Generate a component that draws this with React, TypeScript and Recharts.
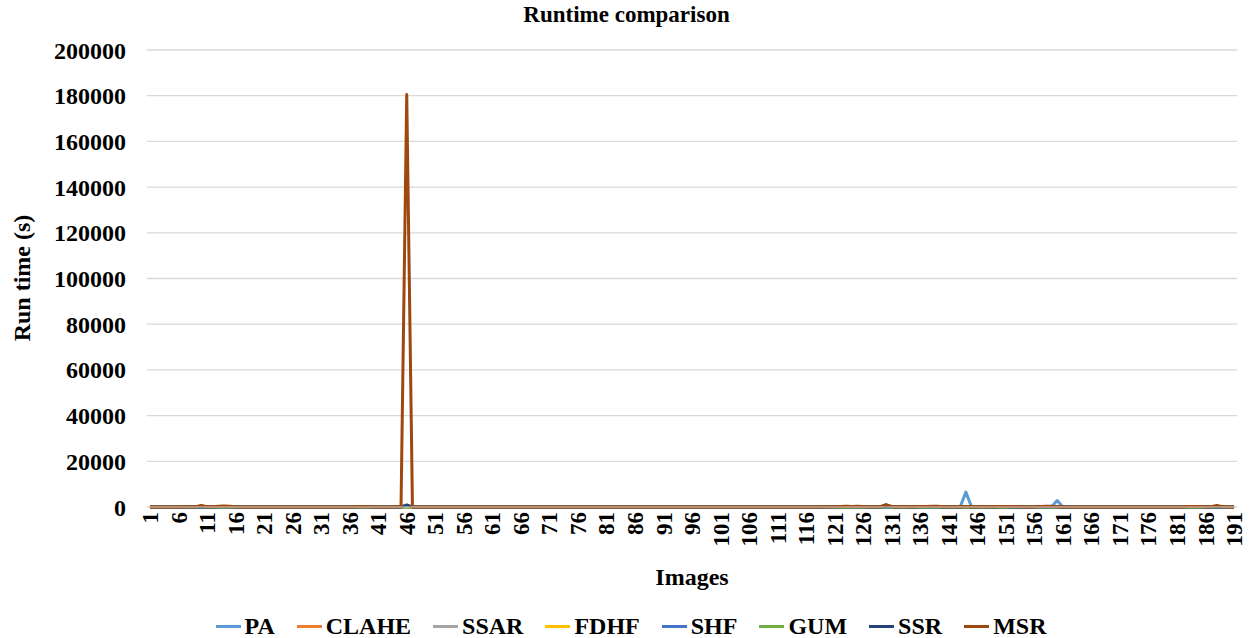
import React from 'react';
import { LineChart, Line, XAxis, YAxis, CartesianGrid } from 'recharts';

const FONT = "'Liberation Serif', 'Times New Roman', serif";

const images = [
  1, 2, 3, 4, 5, 6, 7, 8, 9, 10, 11, 12, 13, 14, 15, 16, 17, 18, 19, 20,
  21, 22, 23, 24, 25, 26, 27, 28, 29, 30, 31, 32, 33, 34, 35, 36, 37, 38, 39, 40,
  41, 42, 43, 44, 45, 46, 47, 48, 49, 50, 51, 52, 53, 54, 55, 56, 57, 58, 59, 60,
  61, 62, 63, 64, 65, 66, 67, 68, 69, 70, 71, 72, 73, 74, 75, 76, 77, 78, 79, 80,
  81, 82, 83, 84, 85, 86, 87, 88, 89, 90, 91, 92, 93, 94, 95, 96, 97, 98, 99, 100,
  101, 102, 103, 104, 105, 106, 107, 108, 109, 110, 111, 112, 113, 114, 115, 116, 117, 118, 119, 120,
  121, 122, 123, 124, 125, 126, 127, 128, 129, 130, 131, 132, 133, 134, 135, 136, 137, 138, 139, 140,
  141, 142, 143, 144, 145, 146, 147, 148, 149, 150, 151, 152, 153, 154, 155, 156, 157, 158, 159, 160,
  161, 162, 163, 164, 165, 166, 167, 168, 169, 170, 171, 172, 173, 174, 175, 176, 177, 178, 179, 180,
  181, 182, 183, 184, 185, 186, 187, 188, 189, 190, 191,
];

const PA = [
  15,12,18,14,10,16,13,15,20,40,
  25,15,30,35,28,14,12,15,13,11,
  15,12,11,16,15,12,11,15,16,12,
  11,15,12,16,15,18,20,26,32,16,
  15,14,12,16,22,120,16,15,12,11,
  15,12,11,16,15,12,11,15,16,12,
  11,15,12,16,15,12,11,15,16,12,
  15,12,11,16,15,12,11,15,16,12,
  11,15,12,16,15,12,11,15,16,12,
  15,12,11,16,15,12,11,15,16,12,
  11,15,12,16,15,12,11,15,16,12,
  15,12,11,16,15,12,11,15,18,22,
  26,32,36,30,33,28,18,16,22,900,
  28,16,30,18,16,26,30,32,31,20,
  16,15,22,6500,18,15,30,18,16,26,
  28,24,16,15,12,16,30,32,31,2800,
  16,12,11,15,12,11,15,12,16,15,
  11,15,12,16,15,12,11,15,16,12,
  15,18,26,30,28,16,18,60,22,16,
  15,
];

const CLAHE = [
  8,7,9,8,6,8,7,9,10,20,
  12,8,15,16,14,7,6,8,7,6,
  8,7,6,9,8,7,6,8,9,7,
  6,8,7,9,8,10,11,15,18,9,
  8,7,6,9,12,60,9,8,7,6,
  8,7,6,9,8,7,6,8,9,7,
  6,8,7,9,8,7,6,8,9,7,
  8,7,6,9,8,7,6,8,9,7,
  6,8,7,9,8,7,6,8,9,7,
  8,7,6,9,8,7,6,8,9,7,
  6,8,7,9,8,7,6,8,9,7,
  8,7,6,9,8,7,6,8,10,12,
  14,18,20,16,18,15,10,9,12,40,
  15,9,16,10,9,14,16,18,17,11,
  9,8,12,60,10,9,16,10,9,14,
  15,13,9,8,7,9,16,18,17,30,
  9,7,6,8,7,6,8,7,9,8,
  6,8,7,9,8,7,6,8,9,7,
  8,9,14,16,15,9,10,30,12,9,
  8,
];

const SSAR = [
  4,3,5,4,3,4,3,5,6,12,
  7,4,9,10,8,4,3,4,3,3,
  4,3,3,5,4,3,3,4,5,3,
  3,4,3,5,4,5,6,8,10,5,
  4,4,3,5,7,35,5,4,3,3,
  4,3,3,5,4,3,3,4,5,3,
  3,4,3,5,4,3,3,4,5,3,
  4,3,3,5,4,3,3,4,5,3,
  3,4,3,5,4,3,3,4,5,3,
  4,3,3,5,4,3,3,4,5,3,
  3,4,3,5,4,3,3,4,5,3,
  4,3,3,5,4,3,3,4,6,7,
  8,10,12,9,10,8,6,5,7,25,
  8,5,9,6,5,8,9,10,9,6,
  5,4,7,35,6,5,9,6,5,8,
  8,7,5,4,4,5,9,10,9,18,
  5,4,3,4,4,3,4,4,5,4,
  3,4,3,5,4,3,3,4,5,3,
  4,5,8,9,8,5,6,18,7,5,
  4,
];

const FDHF = [
  20,18,22,19,16,21,18,22,28,60,
  32,20,40,45,38,19,17,20,18,16,
  20,18,16,22,20,18,16,20,22,18,
  16,20,18,22,20,24,26,35,45,22,
  20,19,17,22,30,150,22,20,18,16,
  20,18,16,22,20,18,16,20,22,18,
  16,20,18,22,20,18,16,20,22,18,
  20,18,16,22,20,18,16,20,22,18,
  16,20,18,22,20,18,16,20,22,18,
  20,18,16,22,20,18,16,20,22,18,
  16,20,18,22,20,18,16,20,22,18,
  20,18,16,22,20,18,16,20,26,30,
  35,45,50,42,46,38,26,22,30,110,
  38,22,40,25,22,36,40,45,42,28,
  22,20,30,150,24,21,40,25,22,36,
  38,33,22,20,18,22,40,45,42,70,
  22,18,16,20,18,16,20,18,22,20,
  16,20,18,22,20,18,16,20,22,18,
  20,22,36,40,38,22,25,80,30,22,
  20,
];

const SHF = [
  25,22,27,24,20,26,23,27,33,70,
  38,25,48,52,45,24,21,25,22,20,
  25,22,20,27,25,22,20,25,27,22,
  20,25,22,27,25,29,31,42,52,27,
  25,24,21,27,36,300,27,25,22,20,
  25,22,20,27,25,22,20,25,27,22,
  20,25,22,27,25,22,20,25,27,22,
  25,22,20,27,25,22,20,25,27,22,
  20,25,22,27,25,22,20,25,27,22,
  25,22,20,27,25,22,20,25,27,22,
  20,25,22,27,25,22,20,25,27,22,
  25,22,20,27,25,22,20,25,31,36,
  42,52,58,49,54,45,31,27,36,130,
  45,27,48,30,27,43,48,52,50,33,
  27,25,36,180,29,26,48,30,27,43,
  45,40,27,25,22,27,48,52,50,90,
  27,22,20,25,22,20,25,22,27,25,
  20,25,22,27,25,22,20,25,27,22,
  25,27,43,48,45,27,30,95,36,27,
  25,
];

const GUM = [
  6,5,7,6,5,6,5,7,8,15,
  9,6,11,12,10,6,5,6,5,5,
  6,5,5,7,6,5,5,6,7,5,
  5,6,5,7,6,7,8,10,12,7,
  6,6,5,7,9,45,7,6,5,5,
  6,5,5,7,6,5,5,6,7,5,
  5,6,5,7,6,5,5,6,7,5,
  6,5,5,7,6,5,5,6,7,5,
  5,6,5,7,6,5,5,6,7,5,
  6,5,5,7,6,5,5,6,7,5,
  5,6,5,7,6,5,5,6,7,5,
  6,5,5,7,6,5,5,6,8,9,
  10,12,14,11,12,10,8,7,9,30,
  10,7,11,8,7,10,11,12,11,8,
  7,6,9,40,8,7,11,8,7,10,
  10,9,7,6,6,7,11,12,11,22,
  7,6,5,6,6,5,6,6,7,6,
  5,6,5,7,6,5,5,6,7,5,
  6,7,10,11,10,7,8,22,9,7,
  6,
];

const SSR = [
  35,32,38,34,29,36,33,38,45,90,
  50,35,62,68,58,34,31,35,32,29,
  35,32,29,38,35,32,29,35,38,32,
  29,35,32,38,35,40,43,56,68,38,
  35,34,31,38,50,900,38,35,32,29,
  35,32,29,38,35,32,29,35,38,32,
  29,35,32,38,35,32,29,35,38,32,
  35,32,29,38,35,32,29,35,38,32,
  29,35,32,38,35,32,29,35,38,32,
  35,32,29,38,35,32,29,35,38,32,
  29,35,32,38,35,32,29,35,38,32,
  35,32,29,38,35,32,29,35,43,50,
  56,68,75,64,70,60,43,38,50,180,
  60,38,62,42,38,57,62,68,65,45,
  38,35,50,220,40,36,62,42,38,57,
  60,54,38,35,32,38,62,68,65,120,
  38,32,29,35,32,29,35,32,38,35,
  29,35,32,38,35,32,29,35,38,32,
  35,38,57,62,60,38,42,130,50,38,
  35,
];

const MSR = [
  40,35,50,45,30,40,55,60,120,650,
  150,80,350,420,320,60,45,40,35,30,
  40,35,30,45,40,35,30,40,45,35,
  30,40,35,45,40,50,60,120,250,80,
  50,45,40,60,200,180500,60,40,35,30,
  40,35,30,45,40,35,30,40,45,35,
  30,40,35,45,40,35,30,40,45,35,
  40,35,30,45,40,35,30,40,45,35,
  30,40,35,45,40,35,30,40,45,35,
  40,35,30,45,40,35,30,40,45,35,
  30,40,35,45,40,35,30,40,45,35,
  40,35,30,45,40,35,30,40,60,80,
  120,260,320,250,280,220,80,60,150,1050,
  220,70,260,90,70,210,260,300,280,120,
  70,60,130,210,70,60,260,90,70,220,
  230,190,70,60,50,70,260,300,280,110,
  60,45,40,35,30,40,45,35,40,35,
  30,40,35,45,40,35,30,40,45,35,
  40,60,220,260,230,70,90,720,160,60,
  40,
];

const yTicks = [0, 20000, 40000, 60000, 80000, 100000, 120000, 140000, 160000, 180000, 200000];

const seriesNames = ['PA', 'CLAHE', 'SSAR', 'FDHF', 'SHF', 'GUM', 'SSR', 'MSR'];
const seriesValues = [PA, CLAHE, SSAR, FDHF, SHF, GUM, SSR, MSR];
const seriesColors = ['#5B9BD5', '#ED7D31', '#A5A5A5', '#FFC000', '#4472C4', '#70AD47', '#264478', '#9E480E'];

const data = images.map((img, i) => {
  const row: Record<string, number> = { image: img };
  seriesNames.forEach((n, k) => {
    row[n] = seriesValues[k][i];
  });
  return row;
});

const XTick = (props: any) => {
  const { x, y, payload } = props;
  return (
    <g transform={`translate(${x},${y})`}>
      <text
        transform="rotate(-90)"
        x={-5}
        y={0}
        dy="0.35em"
        textAnchor="end"
        fill="#000"
        fontSize={23}
        fontWeight="bold"
        fontFamily={FONT}
      >
        {payload.value}
      </text>
    </g>
  );
};

export default function App() {
  return (
    <div
      style={{
        position: 'absolute',
        left: 0,
        top: 0,
        width: 1253,
        height: 638,
        background: '#fff',
        fontFamily: FONT,
        color: '#000',
      }}
    >
      <LineChart width={1253} height={638} data={data} margin={{ top: 50, right: 16, bottom: 91, left: 0 }}>
        <CartesianGrid vertical={false} stroke="#d9d9d9" strokeWidth={1.3} />
        <XAxis
          dataKey="image"
          interval={4}
          height={40}
          tickLine={false}
          tickSize={0}
          tickMargin={0}
          axisLine={{ stroke: '#d9d9d9' }}
          padding={{ left: 3, right: 3 }}
          tick={<XTick />}
        />
        <YAxis
          domain={[0, 200000]}
          ticks={yTicks}
          width={147}
          axisLine={false}
          tickLine={false}
          tickSize={0}
          tickMargin={21}
          interval={0}
          tick={{ fill: '#000', fontSize: 24, fontWeight: 'bold', fontFamily: FONT }}
        />
        {seriesNames.map((n, k) => (
          <Line
            key={n}
            type="linear"
            dataKey={n}
            stroke={seriesColors[k]}
            strokeWidth={3}
            dot={false}
            activeDot={false}
            strokeLinejoin="round"
            isAnimationActive={false}
          />
        ))}
      </LineChart>

      <div
        style={{
          position: 'absolute',
          left: 0,
          top: 0,
          width: 1253,
          textAlign: 'center',
          fontSize: 23,
          fontWeight: 'bold',
          lineHeight: '30px',
        }}
      >
        Runtime comparison
      </div>

      <div
        style={{
          position: 'absolute',
          left: 22,
          top: 278,
          transform: 'translate(-50%, -50%) rotate(-90deg)',
          fontSize: 24,
          fontWeight: 'bold',
          whiteSpace: 'nowrap',
          lineHeight: '30px',
        }}
      >
        Run time (s)
      </div>

      <div
        style={{
          position: 'absolute',
          left: 147,
          width: 1090,
          top: 562,
          textAlign: 'center',
          fontSize: 24,
          fontWeight: 'bold',
          lineHeight: '30px',
        }}
      >
        Images
      </div>

      <div
        style={{
          position: 'absolute',
          left: 0,
          width: 1262,
          top: 612,
          display: 'flex',
          justifyContent: 'center',
          alignItems: 'center',
          fontSize: 24,
          fontWeight: 'bold',
          lineHeight: '28px',
        }}
      >
        {seriesNames.map((n, k) => (
          <div key={n} style={{ display: 'flex', alignItems: 'center', marginRight: k < seriesNames.length - 1 ? 22 : 0 }}>
            <div style={{ width: 25, height: 3, background: seriesColors[k], marginRight: 4 }} />
            <span>{n}</span>
          </div>
        ))}
      </div>
    </div>
  );
}
